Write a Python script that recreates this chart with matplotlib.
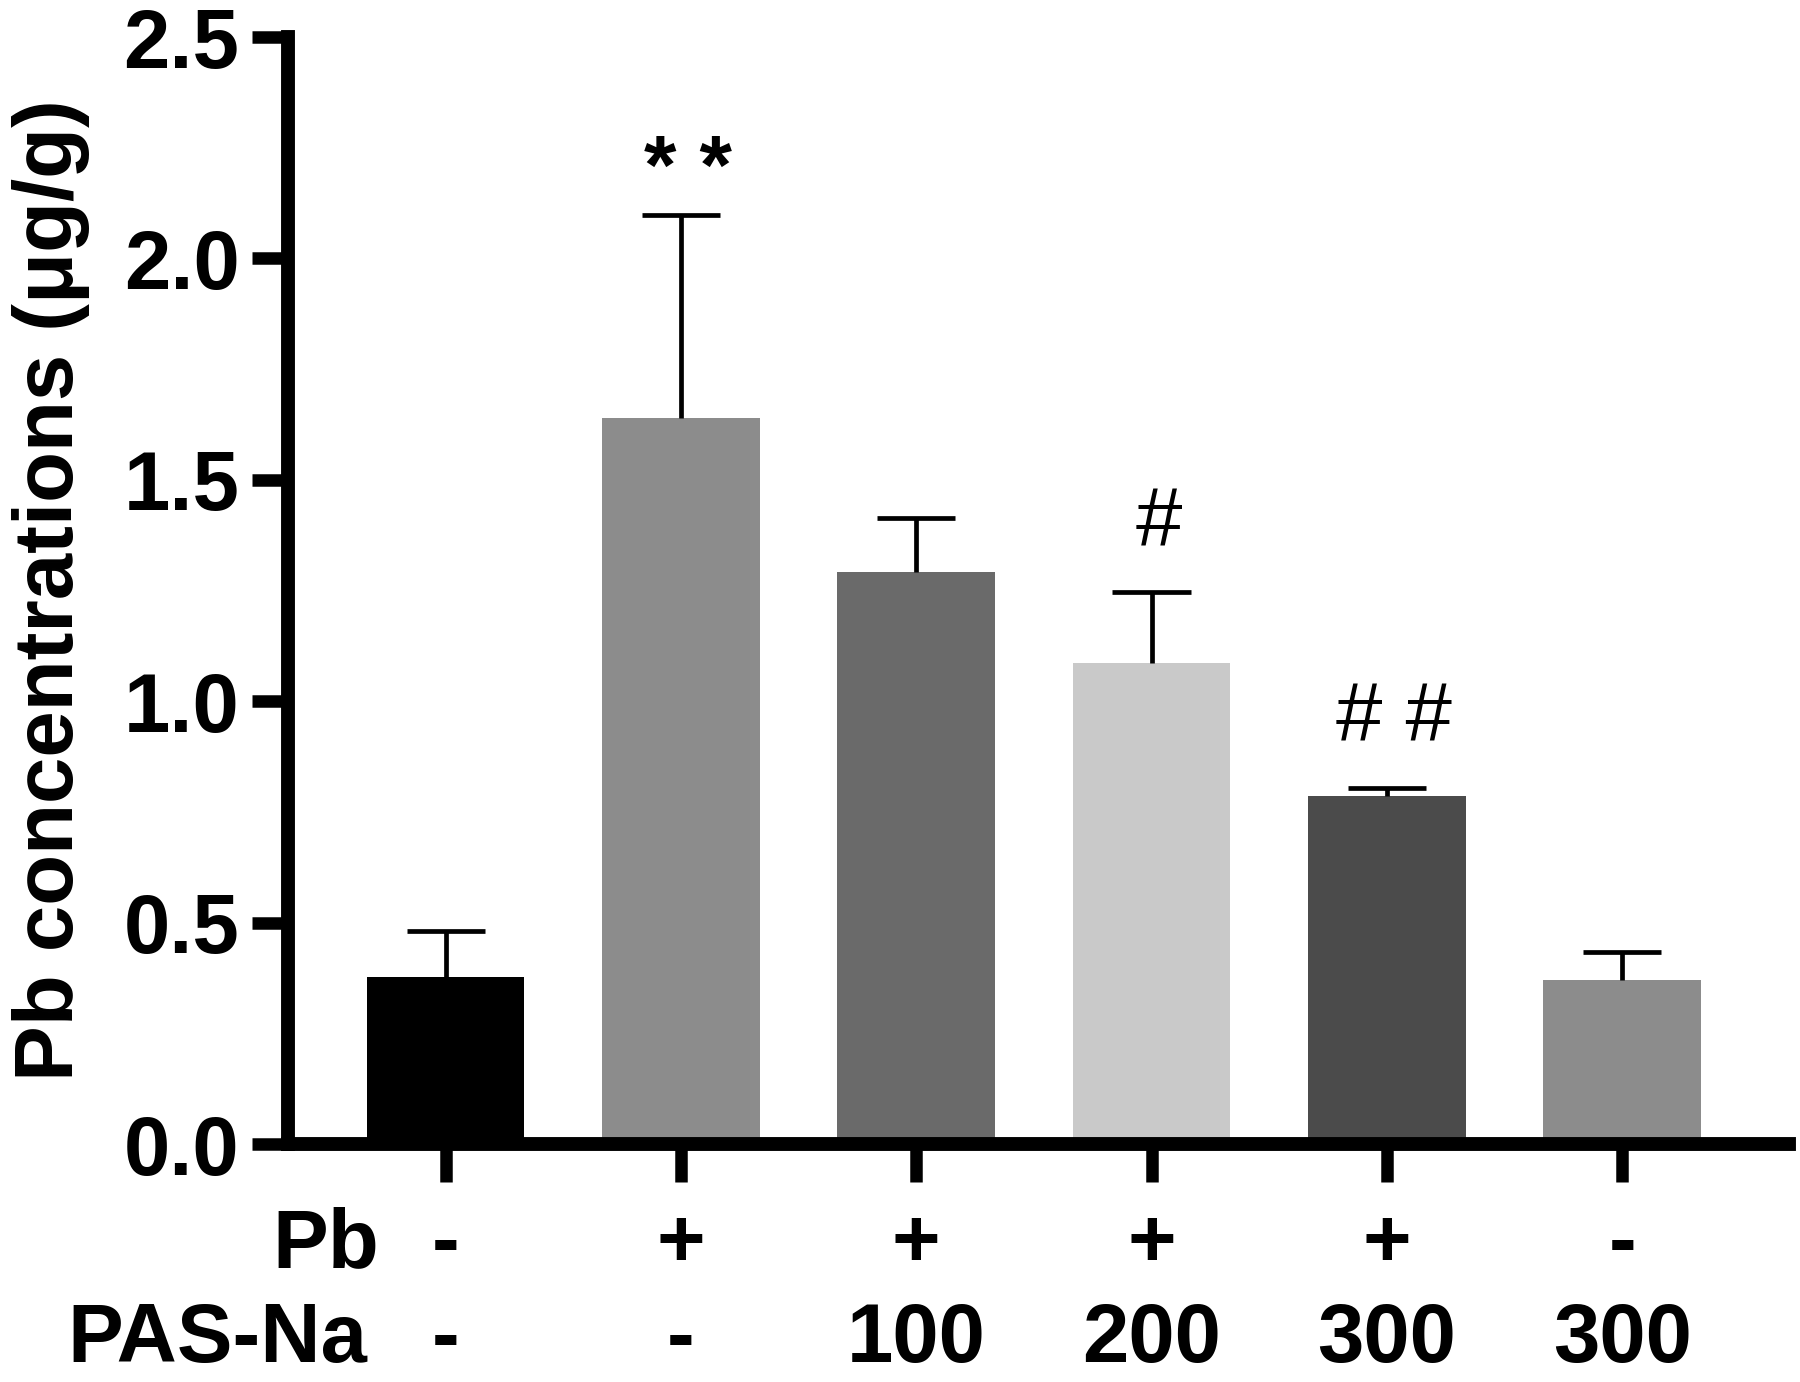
import matplotlib
matplotlib.use('Agg')
import matplotlib.pyplot as plt
import numpy as np

plt.rcParams['font.family'] = ['Liberation Sans', 'DejaVu Sans']
plt.rcParams['font.weight'] = 'bold'

# Data
groups = ['Control', 'Pb', 'Pb+PAS100', 'Pb+PAS200', 'Pb+PAS300', 'PAS300']
means = [0.378, 1.640, 1.292, 1.086, 0.787, 0.371]
sd = [0.104, 0.457, 0.122, 0.161, 0.018, 0.063]
colors = ['#000000', '#8c8c8c', '#6a6a6a', '#c9c9c9', '#4b4b4b', '#8c8c8c']
pb_row = ['-', '+', '+', '+', '+', '-']
pas_row = ['-', '-', '100', '200', '300', '300']
marks = ['', '* *', '', '#', '# #', '']
mark_y = [0, 2.195, 0, 1.400, 0.960, 0]

fig = plt.figure(figsize=(18, 13.82), dpi=100)
ax = fig.add_axes([0.16, 0.1722, 0.834, 0.801])

x = np.arange(len(groups))
ax.bar(x, means, width=0.67, color=colors, edgecolor='none', zorder=2)

# upper error bars only
tops = np.array(means) + np.array(sd)
ax.vlines(x, means, tops, color='black', lw=3.4, zorder=3)
ax.hlines(tops, x - 0.166, x + 0.166, color='black', lw=3.4, zorder=3)

for xi, m, ym in zip(x, marks, mark_y):
    if m:
        w = 'bold' if '*' in m else 'normal'
        ax.text(xi + 0.03, ym, m, ha='center', va='center', fontsize=60, fontweight=w)

ax.set_xlim(-0.67, 5.71)
ax.set_ylim(0, 2.5)
ax.set_yticks([0, 0.5, 1.0, 1.5, 2.0, 2.5])
ax.set_yticklabels(['0.0', '0.5', '1.0', '1.5', '2.0', '2.5'])
ax.set_xticks(x)
ax.set_xticklabels([])

for s in ['top', 'right']:
    ax.spines[s].set_visible(False)
for s in ['left', 'bottom']:
    ax.spines[s].set_linewidth(10)
ax.tick_params(axis='y', length=26, width=9, labelsize=60, pad=9)
ax.tick_params(axis='x', length=27, width=9)

ax.set_ylabel('Pb concentrations (μg/g)', fontsize=60, fontweight='bold')
ax.yaxis.set_label_coords(-0.132, 0.5)

# treatment rows under the axis
trans = ax.get_xaxis_transform()
ax.text(-0.283, -0.111, 'Pb', ha='right', va='baseline', fontsize=60, transform=trans)
ax.text(-0.334, -0.197, 'PAS-Na', ha='right', va='baseline', fontsize=60, transform=trans)
for xi, p, q in zip(x, pb_row, pas_row):
    ax.text(xi, -0.111, p, ha='center', va='baseline', fontsize=60, transform=trans)
    ax.text(xi, -0.197, q, ha='center', va='baseline', fontsize=60, transform=trans)

fig.savefig('out.png', dpi=100)
